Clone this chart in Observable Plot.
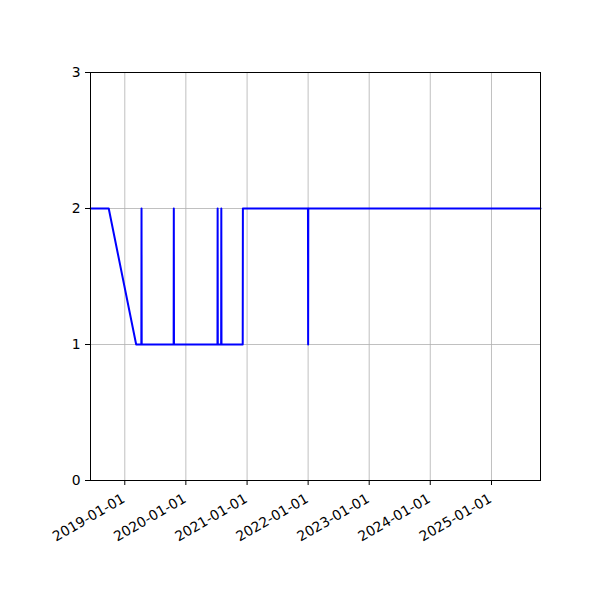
<!DOCTYPE html>
<html>
<head>
<meta charset="utf-8">
<script src="https://cdn.jsdelivr.net/npm/d3@7"></script>
<script src="https://cdn.jsdelivr.net/npm/@observablehq/plot@0.6"></script>
<style>
  body { margin: 0; background: #fff; }
  svg { font-family: "DejaVu Sans", sans-serif; }
</style>
</head>
<body>
<div id="chart"></div>
<script>
const dates = ["2018-06-10","2018-09-27","2019-03-10","2019-04-10","2019-04-11","2019-04-12",
  "2019-10-20","2019-10-21","2019-10-22","2020-07-08","2020-07-09","2020-07-10",
  "2020-07-30","2020-07-31","2020-08-01","2020-12-06","2020-12-07","2021-12-31",
  "2022-01-01","2022-01-02","2025-10-21"];
const values = [2,2,1,1,2,1,1,2,1,1,2,1,1,2,1,1,2,2,1,2,2];
const xTicks = ["2019-01-01","2020-01-01","2021-01-01","2022-01-01","2023-01-01","2024-01-01","2025-01-01"];
const yTicks = [0,1,2,3];

const data = dates.map((d, i) => ({date: new Date(d + "T00:00:00Z"), value: values[i]}));
const xTickDates = xTicks.map(d => new Date(d + "T00:00:00Z"));

const chart = Plot.plot({
  width: 600,
  height: 600,
  marginLeft: 90,
  marginRight: 60,
  marginTop: 72,
  marginBottom: 120,
  style: {fontSize: "13.9px", fontFamily: "DejaVu Sans, sans-serif", color: "black", background: "white"},
  x: {type: "utc", domain: [data[0].date, data[data.length - 1].date]},
  y: {domain: [0, 3]},
  marks: [
    Plot.gridX(xTickDates, {stroke: "#b0b0b0", strokeOpacity: 1, strokeWidth: 0.8}),
    Plot.gridY(yTicks, {stroke: "#b0b0b0", strokeOpacity: 1, strokeWidth: 0.8}),
    Plot.lineY(data, {x: "date", y: "value", stroke: "#0000ff", strokeWidth: 2}),
    Plot.frame({stroke: "black", strokeWidth: 1}),
    Plot.axisX(xTickDates, {tickFormat: () => "", tickSize: 5, label: null}),
    Plot.axisX(xTickDates, {tickFormat: d3.utcFormat("%Y-%m-%d"), tickRotate: -30, tickSize: 0, tickPadding: 9, dx: -1, dy: 8, label: null, fontSize: 13.9}),
    Plot.axisY(yTicks, {tickFormat: d => String(d), tickSize: 5, tickPadding: 5, label: null, fontSize: 13.9})
  ]
});
document.getElementById("chart").appendChild(chart);
</script>
</body>
</html>
